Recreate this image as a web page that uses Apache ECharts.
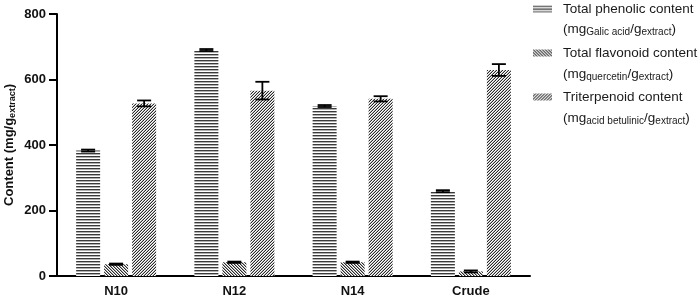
<!DOCTYPE html>
<html>
<head>
<meta charset="utf-8">
<script src="https://cdn.jsdelivr.net/npm/echarts@6/dist/echarts.min.js"></script>
<style>
  html, body { margin: 0; padding: 0; background: #fff; }
  #chart { width: 700px; height: 301px; }
</style>
</head>
<body>
<div id="chart"></div>
<script>
// data
var categories = ['N10', 'N12', 'N14', 'Crude'];
var seriesNames = ['Total phenolic content', 'Total flavonoid content', 'Triterpenoid content'];
var phenolic = [383, 690, 519, 259];
var phenolicErr = [3, 3, 3, 3];
var flavonoid = [36, 42, 42, 14];
var flavonoidErr = [2, 2, 2, 3];
var triterpenoid = [527, 566, 541, 629];
var triterpenoidErr = [9, 27, 8, 18];
var yTicks = [0, 200, 400, 600, 800];

var BAR_W = 24, BAR_GAP = 4;
var FONT = 'Liberation Sans';

// hatch fills
function hatch(kind) {
  var c = document.createElement('canvas');
  var ctx = c.getContext('2d');
  c.width = 3; c.height = 3;
  ctx.fillStyle = '#fff';
  ctx.fillRect(0, 0, 3, 3);
  if (kind == 'h') {
    ctx.fillStyle = '#3a3a3a'; ctx.fillRect(0, 0, 3, 1);
    ctx.fillStyle = '#b0b0b0'; ctx.fillRect(0, 1, 3, 1);
  } else if (kind == 'back') {
    ctx.fillStyle = '#2a2a2a';
    ctx.fillRect(0, 0, 1, 1); ctx.fillRect(1, 1, 1, 1); ctx.fillRect(2, 2, 1, 1);
    ctx.fillStyle = '#a8a8a8';
    ctx.fillRect(1, 0, 1, 1); ctx.fillRect(2, 1, 1, 1); ctx.fillRect(0, 2, 1, 1);
  } else {
    ctx.fillStyle = '#2a2a2a';
    ctx.fillRect(2, 0, 1, 1); ctx.fillRect(1, 1, 1, 1); ctx.fillRect(0, 2, 1, 1);
    ctx.fillStyle = '#b8b8b8';
    ctx.fillRect(1, 0, 1, 1); ctx.fillRect(0, 1, 1, 1); ctx.fillRect(2, 2, 1, 1);
  }
  return { image: c, repeat: 'repeat' };
}

var fills = [hatch('h'), hatch('back'), hatch('fwd')];
var means = [phenolic, flavonoid, triterpenoid];
var errs = [phenolicErr, flavonoidErr, triterpenoidErr];

function errorSeries(k) {
  var data = [];
  for (var i = 0; i < categories.length; i++) {
    data.push([i, means[k][i], errs[k][i]]);
  }
  return {
    type: 'custom',
    name: 'err' + k,
    z: 10,
    silent: true,
    data: data,
    encode: { x: 0, y: 1 },
    renderItem: function (params, api) {
      var off = (k - 1) * (BAR_W + BAR_GAP);
      var hi = api.coord([api.value(0), api.value(1) + api.value(2)]);
      var lo = api.coord([api.value(0), api.value(1) - api.value(2)]);
      var x = hi[0] + off;
      var cap = 7;
      var st = { stroke: '#000', lineWidth: 1.8 };
      return {
        type: 'group',
        children: [
          { type: 'line', shape: { x1: x, y1: hi[1], x2: x, y2: lo[1] }, style: st },
          { type: 'line', shape: { x1: x - cap, y1: hi[1], x2: x + cap, y2: hi[1] }, style: st },
          { type: 'line', shape: { x1: x - cap, y1: lo[1], x2: x + cap, y2: lo[1] }, style: st }
        ]
      };
    }
  };
}

var series = [];
for (var k = 0; k < 3; k++) {
  series.push({
    type: 'bar',
    name: seriesNames[k],
    data: means[k],
    barWidth: BAR_W,
    barGap: (BAR_GAP / BAR_W * 100) + '%',
    itemStyle: { color: fills[k] },
    emphasis: { disabled: true }
  });
}
for (var k2 = 0; k2 < 3; k2++) series.push(errorSeries(k2));

var subRich = {
  s: { fontSize: 10, fontFamily: FONT, color: '#1a1a1a', padding: [7, 0, 0, 0] }
};
var unitLines = [
  '(mg{s|Galic acid}/g{s|extract})',
  '(mg{s|quercetin}/g{s|extract})',
  '(mg{s|acid betulinic}/g{s|extract})'
];
var unitY = [30, 75, 119];
var graphics = unitLines.map(function (t, i) {
  return {
    type: 'text',
    left: 563,
    top: unitY[i] - 8,
    style: { text: t, fontSize: 13.5, fontFamily: FONT, fill: '#1a1a1a', rich: subRich }
  };
});

var chart = echarts.init(document.getElementById('chart'));
chart.setOption({
  animation: false,
  textStyle: { fontFamily: FONT },
  grid: { left: 57, right: 170, top: 14, bottom: 25, outerBoundsMode: 'none', containLabel: false },
  legend: {
    orient: 'vertical',
    left: 533,
    top: 2,
    padding: 0,
    itemWidth: 19,
    itemHeight: 7,
    itemGap: 30,
    icon: 'rect',
    selectedMode: false,
    data: seriesNames,
    textStyle: { fontSize: 13.5, color: '#1a1a1a', fontFamily: FONT, padding: [0, 0, 0, 6] }
  },
  xAxis: {
    type: 'category',
    data: categories,
    axisLine: { lineStyle: { color: '#000', width: 2 } },
    axisTick: { alignWithLabel: true, length: 7, lineStyle: { color: '#000', width: 2 } },
    axisLabel: { fontSize: 13, fontWeight: 'bold', color: '#111', margin: 9 }
  },
  yAxis: {
    type: 'value',
    min: yTicks[0],
    max: yTicks[yTicks.length - 1],
    interval: yTicks[1] - yTicks[0],
    splitLine: { show: false },
    axisLine: { show: true, lineStyle: { color: '#000', width: 2 } },
    axisTick: { show: true, length: 8, lineStyle: { color: '#000', width: 2 } },
    axisLabel: { fontSize: 13, fontWeight: 'bold', color: '#111', margin: 11 },
    name: 'Content (mg/g{s|extract})',
    nameLocation: 'middle',
    nameRotate: 90,
    nameGap: 40,
    nameMoveOverlap: false,
    nameTextStyle: {
      fontSize: 13, fontWeight: 'bold', color: '#111',
      rich: { s: { fontSize: 9, fontWeight: 'bold', color: '#111', padding: [6, 0, 0, 0] } }
    }
  },
  graphic: graphics,
  series: series
});
</script>
</body>
</html>
